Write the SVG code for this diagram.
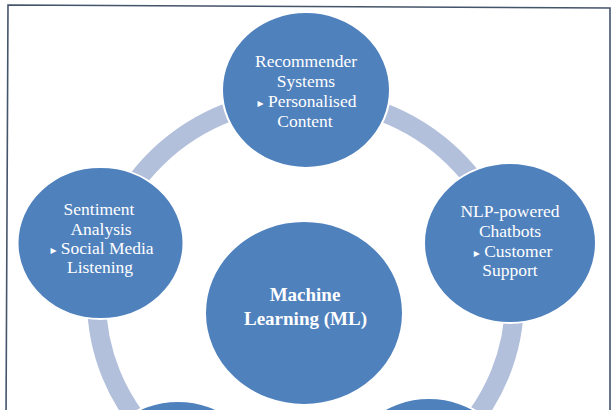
<svg xmlns="http://www.w3.org/2000/svg" width="615" height="410" viewBox="0 0 615 410">
<style>
.node{fill:#4F81BD;stroke:#FFFFFF;stroke-width:2}
.ring{fill:none;stroke:#B3C0DC;stroke-width:19}
.frame{fill:none;stroke:#44546A;stroke-width:1.6}
.lbl{font-family:"Liberation Serif","Times New Roman",serif;font-size:17.5px;fill:#FFFFFF;text-anchor:middle}
.ml{font-family:"Liberation Serif","Times New Roman",serif;font-size:19px;font-weight:bold;fill:#FFFFFF;text-anchor:middle}
.bul{font-family:"DejaVu Sans",sans-serif;font-size:12px}
</style>
<rect x="0" y="0" width="615" height="410" fill="#FFFFFF"/>
<polygon class="frame" points="8,5 610,8 610,420 6,420"/>
<g id="connectors">
<ellipse class="ring" cx="305.5" cy="300" rx="209" ry="202"/>
</g>
<g id="node-recommender">
<ellipse class="node" cx="306" cy="90" rx="84" ry="78"/>
<text class="lbl" x="306" y="67">Recommender</text>
<text class="lbl" x="306" y="87">Systems</text>
<text class="lbl" x="307" y="107"><tspan class="bul">▸</tspan> Personalised</text>
<text class="lbl" x="305" y="127">Content</text>
</g>
<g id="node-sentiment">
<ellipse class="node" cx="100.5" cy="243" rx="83" ry="76"/>
<text class="lbl" x="99" y="215">Sentiment</text>
<text class="lbl" x="101" y="235">Analysis</text>
<text class="lbl" x="102" y="254"><tspan class="bul">▸</tspan> Social Media</text>
<text class="lbl" x="100" y="273">Listening</text>
</g>
<g id="node-nlp">
<ellipse class="node" cx="510" cy="243" rx="86" ry="80"/>
<text class="lbl" x="510" y="217">NLP-powered</text>
<text class="lbl" x="510" y="237">Chatbots</text>
<text class="lbl" x="513" y="257"><tspan class="bul">▸</tspan> Customer</text>
<text class="lbl" x="510" y="276">Support</text>
</g>
<g id="node-bottom-left">
<ellipse class="node" cx="178" cy="478" rx="84" ry="77"/>
</g>
<g id="node-bottom-right">
<ellipse class="node" cx="429" cy="476" rx="85" ry="78"/>
</g>
<g id="node-ml">
<ellipse class="node" cx="304" cy="313" rx="99" ry="92"/>
<text class="ml" x="305" y="301">Machine</text>
<text class="ml" x="305.5" y="325">Learning (ML)</text>
</g>
</svg>
